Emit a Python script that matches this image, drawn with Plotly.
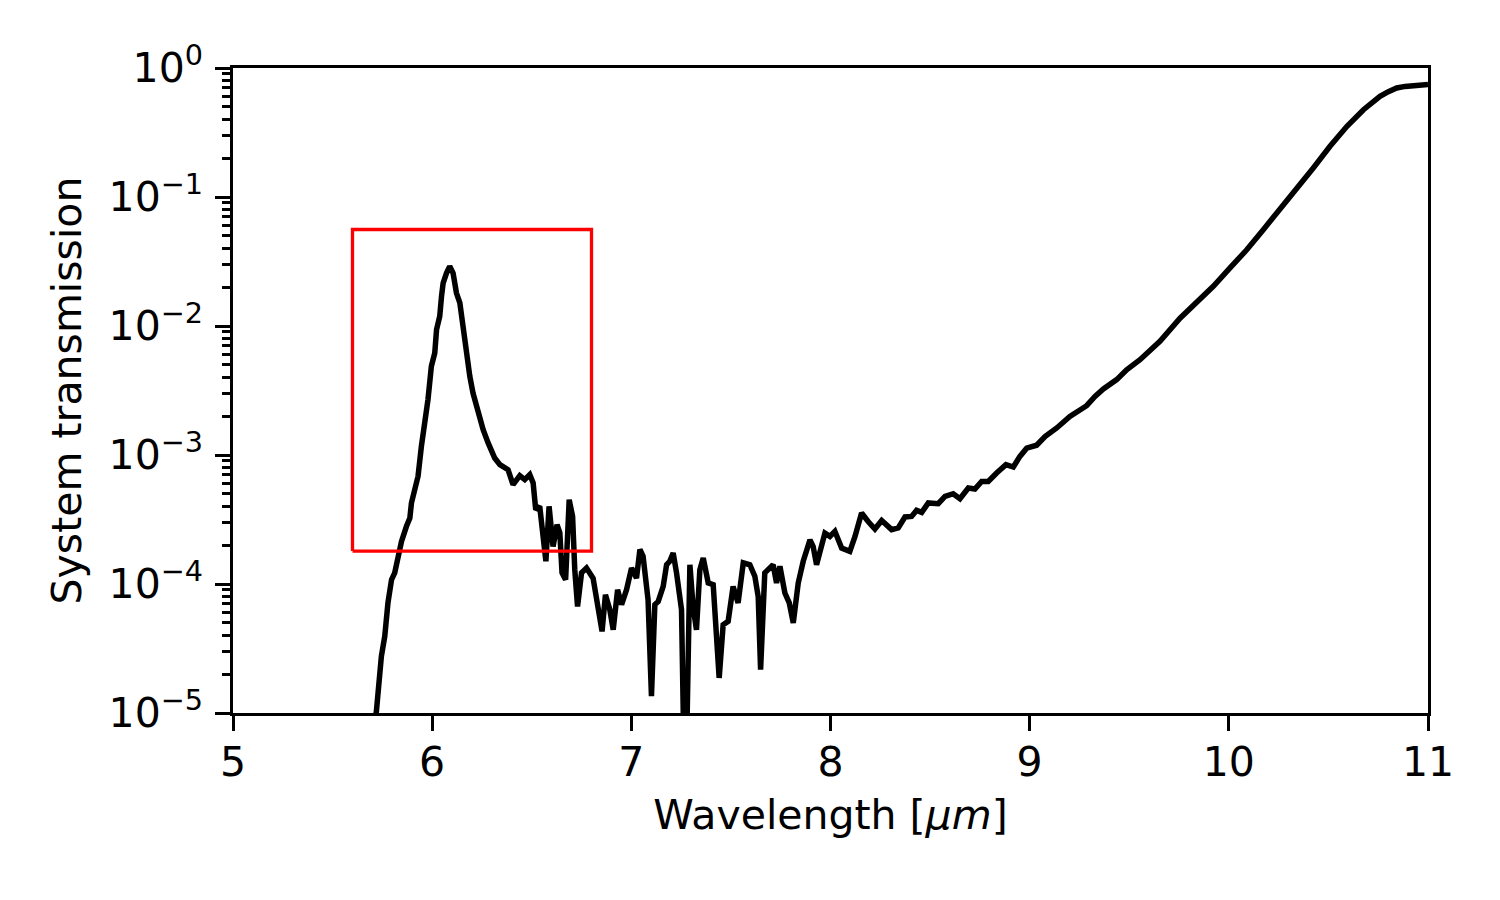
import plotly.graph_objects as go

# Wavelength [um] and system transmission
wavelength = [5.704, 5.720, 5.745, 5.762, 5.778, 5.796, 5.812, 5.829, 5.846, 5.871,
              5.888, 5.896, 5.913, 5.929, 5.946, 5.963, 5.979, 5.996, 6.013, 6.022,
              6.038, 6.047, 6.055, 6.072, 6.088, 6.105, 6.122, 6.139, 6.155, 6.172,
              6.189, 6.205, 6.231, 6.256, 6.281, 6.314, 6.340, 6.381, 6.406, 6.423,
              6.440, 6.465, 6.490, 6.507, 6.520, 6.540, 6.557, 6.571, 6.587, 6.607,
              6.627, 6.641, 6.652, 6.670, 6.688, 6.705, 6.716, 6.730, 6.750, 6.775,
              6.808, 6.833, 6.853, 6.870, 6.892, 6.909, 6.931, 6.951, 6.976, 7.001,
              7.026, 7.043, 7.059, 7.084, 7.101, 7.118, 7.135, 7.160, 7.177, 7.193,
              7.210, 7.227, 7.252, 7.264, 7.277, 7.294, 7.310, 7.327, 7.344, 7.361,
              7.386, 7.411, 7.428, 7.441, 7.461, 7.486, 7.511, 7.536, 7.562, 7.595,
              7.620, 7.637, 7.649, 7.670, 7.712, 7.729, 7.746, 7.771, 7.793, 7.813,
              7.838, 7.863, 7.897, 7.913, 7.930, 7.955, 7.972, 7.997, 8.022, 8.056,
              8.097, 8.123, 8.156, 8.189, 8.223, 8.257, 8.307, 8.340, 8.374, 8.407,
              8.432, 8.458, 8.491, 8.541, 8.575, 8.616, 8.650, 8.692, 8.725, 8.759,
              8.792, 8.834, 8.881, 8.918, 8.951, 8.985, 9.035, 9.077, 9.136, 9.202,
              9.253, 9.286, 9.328, 9.370, 9.437, 9.487, 9.554, 9.610, 9.654, 9.755,
              9.839, 9.922, 10.006, 10.090, 10.173, 10.257, 10.341, 10.424, 10.508, 10.592,
              10.676, 10.717, 10.759, 10.801, 10.843, 10.885, 10.927, 10.969, 11.0]

transmission = [7.4e-6, 1.03e-5, 2.75e-5, 3.93e-5, 7.13e-5, 1.08e-4, 1.22e-4, 1.64e-4, 2.14e-4, 2.80e-4,
                3.25e-4, 4.25e-4, 5.38e-4, 6.83e-4, 1.17e-3, 1.67e-3, 2.69e-3, 4.87e-3, 6.18e-3, 9.36e-3,
                1.19e-2, 1.70e-2, 2.15e-2, 2.57e-2, 2.90e-2, 2.57e-2, 1.80e-2, 1.51e-2, 9.36e-3, 5.81e-3,
                4.07e-3, 3.02e-3, 2.12e-3, 1.57e-3, 1.24e-3, 9.48e-4, 8.41e-4, 7.69e-4, 5.89e-4, 6.44e-4,
                6.92e-4, 6.44e-4, 7.04e-4, 6.07e-4, 3.77e-4, 4.00e-4, 2.48e-4, 1.50e-4, 4.00e-4, 1.95e-4,
                2.88e-4, 2.50e-4, 1.22e-4, 1.08e-4, 4.50e-4, 3.34e-4, 1.29e-4, 6.70e-5, 1.22e-4, 1.33e-4,
                1.11e-4, 5.96e-5, 4.29e-5, 8.26e-5, 6.32e-5, 4.42e-5, 9.03e-5, 6.92e-5, 9.03e-5, 1.33e-4,
                1.11e-4, 1.85e-4, 1.64e-4, 7.55e-5, 1.35e-5, 6.92e-5, 7.33e-5, 9.57e-5, 1.41e-4, 1.50e-4,
                1.74e-4, 1.22e-4, 6.32e-5, 5.0e-6, 5.0e-6, 1.41e-4, 6.70e-5, 4.42e-5, 1.29e-4, 1.59e-4,
                1.02e-4, 9.88e-5, 4.42e-5, 1.87e-5, 4.83e-5, 5.13e-5, 9.57e-5, 7.13e-5, 1.46e-4, 1.41e-4,
                1.15e-4, 8.01e-5, 2.17e-5, 1.22e-4, 1.41e-4, 1.02e-4, 1.37e-4, 8.51e-5, 7.13e-5, 4.99e-5,
                1.02e-4, 1.50e-4, 2.20e-4, 1.95e-4, 1.41e-4, 1.95e-4, 2.48e-4, 2.34e-4, 2.56e-4, 1.90e-4,
                1.79e-4, 2.34e-4, 3.55e-4, 3.05e-4, 2.67e-4, 3.11e-4, 2.64e-4, 2.72e-4, 3.31e-4, 3.34e-4,
                3.72e-4, 3.59e-4, 4.25e-4, 4.19e-4, 4.77e-4, 5.01e-4, 4.58e-4, 5.55e-4, 5.45e-4, 6.24e-4,
                6.24e-4, 7.25e-4, 8.41e-4, 8.07e-4, 9.75e-4, 1.13e-3, 1.19e-3, 1.39e-3, 1.62e-3, 1.99e-3,
                2.27e-3, 2.41e-3, 2.84e-3, 3.25e-3, 3.84e-3, 4.58e-3, 5.48e-3, 6.50e-3, 7.60e-3, 1.15e-2,
                1.51e-2, 2.03e-2, 2.82e-2, 3.90e-2, 5.58e-2, 7.97e-2, 0.114, 0.168, 0.247, 0.352,
                0.475, 0.541, 0.603, 0.655, 0.700, 0.720, 0.733, 0.742, 0.745]

# Highlight box (wavelength and transmission limits)
box_wavelength = [5.6, 6.8]
box_transmission = [1.8e-4, 5.6e-2]

x_ticks = [5, 6, 7, 8, 9, 10, 11]
y_ticks = [1e-5, 1e-4, 1e-3, 1e-2, 1e-1, 1e0]
y_tick_labels = ["10<sup>\u22125</sup>", "10<sup>\u22124</sup>", "10<sup>\u22123</sup>",
                 "10<sup>\u22122</sup>", "10<sup>\u22121</sup>", "10<sup>0</sup>"]

FONT = "DejaVu Sans"
FS = 41

fig = go.Figure()
fig.add_trace(go.Scatter(x=wavelength, y=transmission, mode="lines",
                         line=dict(color="black", width=5.5), showlegend=False,
                         hoverinfo="skip"))

bx0, bx1 = box_wavelength
by0, by1 = box_transmission
fig.add_trace(go.Scatter(x=[bx0, bx1, bx1, bx0, bx0], y=[by0, by0, by1, by1, by0],
                         mode="lines", line=dict(color="red", width=3.3),
                         showlegend=False, hoverinfo="skip"))

fig.update_layout(
    width=1500, height=900,
    margin=dict(l=225, r=80, t=60, b=195, autoexpand=False),
    paper_bgcolor="white", plot_bgcolor="white",
    font=dict(family=FONT, size=FS, color="black"),
    showlegend=False,
)
fig.update_xaxes(
    range=[5, 11], tickvals=x_ticks, ticktext=[str(v) for v in x_ticks],
    showline=True, linecolor="black", linewidth=3.3, mirror=True,
    ticks="outside", ticklen=14.6, tickwidth=3.3, tickcolor="black",
    showgrid=False, zeroline=False,
    ticklabelstandoff=-4,
    title=dict(text="Wavelength [<i>\u03bcm</i>]", font=dict(family=FONT, size=FS), standoff=16),
)
fig.update_yaxes(
    type="log", range=[-5, 0], tickvals=y_ticks, ticktext=y_tick_labels,
    showline=True, linecolor="black", linewidth=3.3, mirror=True,
    ticks="outside", ticklen=14.6, tickwidth=3.3, tickcolor="black",
    minor=dict(ticks="outside", dtick="D1", ticklen=8.3, tickwidth=2.5, tickcolor="black", showgrid=False),
    showgrid=False, zeroline=False,
    ticklabelstandoff=4,
    title=dict(text="System transmission", font=dict(family=FONT, size=FS), standoff=15),
)

fig.write_html("out.html")
